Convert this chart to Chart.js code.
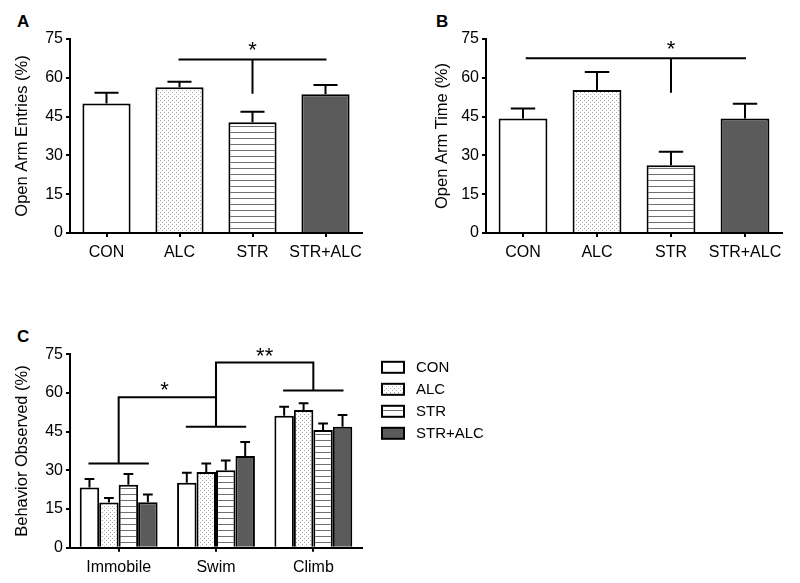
<!DOCTYPE html>
<html>
<head>
<meta charset="utf-8">
<script src="https://cdn.jsdelivr.net/npm/chart.js@4"></script>
<style>
  html, body { margin: 0; padding: 0; background: #fff; }
  body { width: 800px; height: 583px; position: relative; overflow: hidden; font-family: 'Liberation Sans', Arial, sans-serif; }
  canvas { position: absolute; }
  .letter { position: absolute; font-weight: bold; font-size: 17px; line-height: 1; color: #000; }
</style>
</head>
<body>
<div class="letter" style="left:17px;top:13px">A</div>
<div class="letter" style="left:436px;top:13px">B</div>
<div class="letter" style="left:17px;top:328px">C</div>
<canvas id="chartA" width="400" height="290" style="left:0;top:0"></canvas>
<canvas id="chartB" width="400" height="290" style="left:400px;top:0"></canvas>
<canvas id="chartC" width="520" height="293" style="left:0;top:290px"></canvas>
<script>
// groups + tick values
const groups = ['CON', 'ALC', 'STR', 'STR+ALC']
const yTicks = [0, 15, 30, 45, 60, 75]

// A: open arm entries (mean, SEM)
const entriesMean = [50.1, 56.3, 42.8, 53.6]
const entriesSem = [4.1, 2.2, 4.1, 3.6]

// B: open arm time
const timeMean = [44.3, 55.3, 26.2, 44.3]
const timeSem = [3.8, 6.9, 5.2, 5.7]

// C: forced swim behaviour
const behaviors = ['Immobile', 'Swim', 'Climb']
const conBehavior = [23.3, 25.2, 51.2]
const conBehaviorSem = [3.3, 3.9, 3.5]
const alcBehavior = [17.5, 29.4, 53.4]
const alcBehaviorSem = [1.8, 3.3, 2.6]
const strBehavior = [24.4, 30.0, 45.6]
const strBehaviorSem = [4.2, 3.8, 2.6]
const strAlcBehavior = [17.6, 35.6, 46.9]
const strAlcBehaviorSem = [3.0, 5.4, 4.6]

// significance brackets [x1, y1, x2, y2] in category index / value units, stars [x, y, text]
const sigSegmentsA = [[1, 67.1, 3, 67.1], [2, 67.1, 2, 54.2]]
const sigStarsA = [[2, 72.3, '*']]
const sigSegmentsB = [[0.05, 67.6, 3, 67.6], [2, 67.6, 2, 54.6]]
const sigStarsB = [[2, 72.7, '*']]
const sigSegmentsC = [
  [-0.3, 32.7, 0.3, 32.7], [0, 32.7, 0, 58.3], [0, 58.3, 1, 58.3],
  [1, 71.8, 1, 46.9], [0.7, 46.9, 1.3, 46.9],
  [1, 71.8, 2, 71.8], [2, 71.8, 2, 61.0], [1.7, 61.0, 2.3, 61.0]
]
const sigStarsC = [[0.47, 62.7, '*'], [1.5, 76.0, '**']]

Chart.defaults.font.family = "'Liberation Sans', Arial, sans-serif"
Chart.defaults.font.size = 16
Chart.defaults.color = '#000'
Chart.defaults.animation = false
Chart.defaults.plugins.legend.display = false
Chart.defaults.plugins.tooltip.enabled = false

function makeDots() {
  const c = document.createElement('canvas')
  c.width = 4; c.height = 4
  const g = c.getContext('2d')
  g.fillStyle = '#fff'; g.fillRect(0, 0, 4, 4)
  g.fillStyle = '#a8a8a8'
  g.fillRect(0, 0, 1, 1)
  g.fillRect(2, 2, 1, 1)
  return g.createPattern(c, 'repeat')
}

function makeLines() {
  const c = document.createElement('canvas')
  c.width = 6; c.height = 6
  const g = c.getContext('2d')
  g.fillStyle = '#fff'; g.fillRect(0, 0, 6, 6)
  g.fillStyle = '#707070'
  g.fillRect(0, 0, 6, 1)
  return g.createPattern(c, 'repeat')
}

const FILLS = ['#ffffff', makeDots(), makeLines(), '#5b5b5b']

const errorBars = {
  id: 'errorBars',
  afterDatasetsDraw(chart) {
    const ctx = chart.ctx
    const yScale = chart.scales.y
    chart.data.datasets.forEach((ds, i) => {
      const meta = chart.getDatasetMeta(i)
      meta.data.forEach((bar, j) => {
        const top = yScale.getPixelForValue(ds.data[j] + ds.errors[j])
        const half = bar.width / 4
        ctx.save()
        ctx.strokeStyle = '#000'
        ctx.lineWidth = 2
        ctx.beginPath()
        ctx.moveTo(bar.x, bar.y)
        ctx.lineTo(bar.x, top)
        ctx.moveTo(bar.x - half, top)
        ctx.lineTo(bar.x + half, top)
        ctx.stroke()
        ctx.restore()
      })
    })
  }
}

function sigPlugin(segments, stars) {
  return {
    id: 'sig',
    afterDraw(chart) {
      const ctx = chart.ctx
      const xs = chart.scales.x, ys = chart.scales.y
      ctx.save()
      ctx.strokeStyle = '#000'
      ctx.lineWidth = 2
      ctx.lineCap = 'square'
      ctx.beginPath()
      segments.forEach(([x1, y1, x2, y2]) => {
        ctx.moveTo(xs.getPixelForValue(x1), ys.getPixelForValue(y1))
        ctx.lineTo(xs.getPixelForValue(x2), ys.getPixelForValue(y2))
      })
      ctx.stroke()
      ctx.fillStyle = '#000'
      ctx.font = "22px 'Liberation Sans', Arial, sans-serif"
      ctx.textAlign = 'center'
      ctx.textBaseline = 'alphabetic'
      stars.forEach(([sx, sy, txt]) => {
        const m = ctx.measureText(txt)
        const yc = ys.getPixelForValue(sy)
        const y = yc + (m.actualBoundingBoxAscent - m.actualBoundingBoxDescent) / 2
        ctx.fillText(txt, xs.getPixelForValue(sx), y)
      })
      ctx.restore()
    }
  }
}

const sideLegend = {
  id: 'sideLegend',
  afterDraw(chart) {
    const ctx = chart.ctx
    const area = chart.chartArea
    const x0 = area.right + 20
    ctx.save()
    chart.data.datasets.forEach((ds, i) => {
      const top = area.top + 7.5 + i * 22
      ctx.fillStyle = ds.backgroundColor
      ctx.fillRect(x0, top, 22, 11)
      ctx.strokeStyle = '#000'
      ctx.lineWidth = 2
      ctx.strokeRect(x0, top, 22, 11)
      ctx.fillStyle = '#000'
      ctx.font = "15px 'Liberation Sans', Arial, sans-serif"
      ctx.textBaseline = 'middle'
      ctx.textAlign = 'left'
      ctx.fillText(ds.label, x0 + 34, top + 6)
    })
    ctx.restore()
  }
}

function barOptions(yTitle, titlePad, yWidth, xHeight, padding, barPct, catPct) {
  return {
    responsive: false,
    events: [],
    layout: { padding: padding },
    datasets: { bar: { barPercentage: barPct, categoryPercentage: catPct } },
    scales: {
      x: {
        grid: { offset: false, drawOnChartArea: false, tickLength: 4, color: '#000', lineWidth: 2 },
        border: { color: '#000', width: 2 },
        ticks: { padding: 6, color: '#000', font: { size: 16 }, autoSkip: false, maxRotation: 0, minRotation: 0 },
        afterFit: s => { s.height = xHeight }
      },
      y: {
        min: 0,
        max: 75,
        afterBuildTicks: s => { s.ticks = yTicks.map(v => ({ value: v })) },
        grid: { drawOnChartArea: false, tickLength: 4, color: '#000', lineWidth: 2 },
        border: { color: '#000', width: 2 },
        ticks: { padding: 3, color: '#000', font: { size: 16 } },
        title: { display: true, text: yTitle, color: '#000', font: { size: 16.5 }, padding: { top: titlePad, bottom: 0 } },
        afterFit: s => { s.width = yWidth }
      }
    }
  }
}

function singleSet(values, errors) {
  return [{
    data: values,
    errors: errors,
    backgroundColor: FILLS,
    borderColor: '#000',
    borderWidth: 2
  }]
}

new Chart(document.getElementById('chartA').getContext('2d'), {
  type: 'bar',
  data: { labels: groups, datasets: singleSet(entriesMean, entriesSem) },
  options: barOptions('Open Arm Entries (%)', 13, 70, 40, { top: 39, right: 38, bottom: 17, left: 0 }, 0.66, 1),
  plugins: [errorBars, sigPlugin(sigSegmentsA, sigStarsA)]
})

new Chart(document.getElementById('chartB').getContext('2d'), {
  type: 'bar',
  data: { labels: groups, datasets: singleSet(timeMean, timeSem) },
  options: barOptions('Open Arm Time (%)', 33, 86, 40, { top: 39, right: 18, bottom: 17, left: 0 }, 0.66, 1),
  plugins: [errorBars, sigPlugin(sigSegmentsB, sigStarsB)]
})

const behaviorSets = [
  [conBehavior, conBehaviorSem],
  [alcBehavior, alcBehaviorSem],
  [strBehavior, strBehaviorSem],
  [strAlcBehavior, strAlcBehaviorSem]
].map(([vals, errs], i) => ({
  label: groups[i],
  data: vals,
  errors: errs,
  backgroundColor: FILLS[i],
  borderColor: '#000',
  borderWidth: 2
}))

new Chart(document.getElementById('chartC').getContext('2d'), {
  type: 'bar',
  data: { labels: behaviors, datasets: behaviorSets },
  options: barOptions('Behavior Observed (%)', 13, 70, 35.3, { top: 64.3, right: 158, bottom: 0, left: 0 }, 1, 0.8),
  plugins: [errorBars, sigPlugin(sigSegmentsC, sigStarsC), sideLegend]
})
</script>
</body>
</html>
